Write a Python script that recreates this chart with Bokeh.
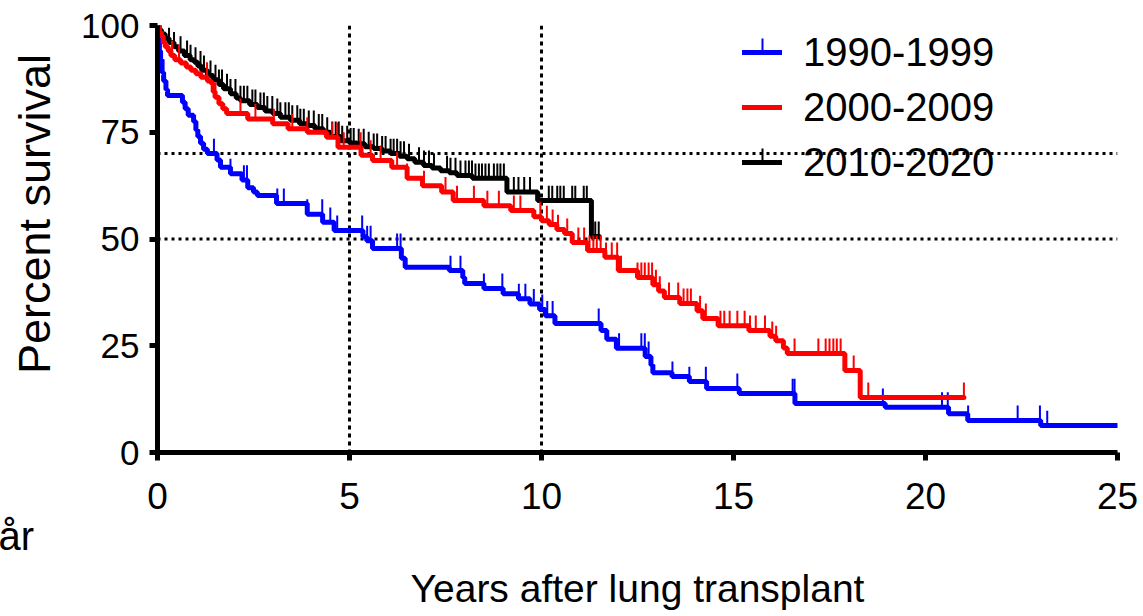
import numpy as np
from bokeh.plotting import figure
from bokeh.models import (Span, Legend, LegendItem, ColumnDataSource, Title,
                          FixedTicker, Range1d, BoxAnnotation)
from bokeh.embed import file_html
from bokeh.resources import INLINE

FONT = "Liberation Sans"

# ---------------- data ----------------
series_labels = ["1990-1999", "2000-2009", "2010-2020"]
series_colors = ["#0000ff", "#ff0000", "#000000"]

x_ticks = [0, 5, 10, 15, 20, 25]
y_ticks = [0, 25, 50, 75, 100]
ref_x = [5, 10]
ref_y = [50, 70]

blue_t = [0, 0.02, 0.05, 0.08, 0.12, 0.16, 0.22, 0.26, 0.65, 0.72, 0.80, 0.94, 1.00, 1.05,
          1.12, 1.20, 1.30, 1.55, 1.64, 1.90, 2.20, 2.35, 2.50, 2.60, 3.10, 3.90, 4.30, 4.60,
          5.35, 5.45, 5.60, 6.35, 6.45, 7.60, 7.95, 8.00, 8.50, 9.00, 9.40, 9.70, 9.95, 10.10,
          10.35, 11.55, 11.70, 11.95, 12.70, 12.85, 12.90, 13.40, 13.85, 14.30, 15.15, 16.60,
          18.95, 20.60, 21.10, 23.00]
blue_s = [100, 97, 94, 92, 89, 87, 85, 83.6, 82, 80.5, 79, 77.5, 75.5, 74,
          72.4, 71, 70, 68.5, 66.8, 65.3, 63.8, 62, 61, 60.2, 58.3, 55.8, 53.9, 52,
          50.5, 49.6, 47.8, 45.5, 43.4, 42.6, 41, 39.6, 38.4, 37.2, 36, 34.8, 33.5, 32,
          30.2, 28.6, 26.5, 24.4, 22.5, 20.5, 18.7, 17.8, 16.6, 15, 13.8, 11.5,
          10.6, 9.1, 7.5, 6.3]
blue_end = 25.0
blue_censor = [1.47, 1.90, 2.25, 2.33, 3.12, 3.29, 3.90, 4.29, 4.50, 4.68, 5.33, 5.46, 5.55,
               6.24, 6.33, 7.63, 7.89, 8.50, 8.98, 9.41, 9.58, 9.80, 10.02, 10.15, 10.29,
               11.49, 12.02, 12.60, 12.69, 12.79, 13.41, 13.85, 14.28, 15.10, 16.54, 16.59,
               18.89, 20.43, 20.58, 21.11, 22.40, 22.98, 23.17]

red_t = [0, 0.05, 0.10, 0.15, 0.20, 0.28, 0.35, 0.45, 0.60, 0.75, 0.87, 1.00, 1.13, 1.30,
         1.40, 1.45, 1.50, 1.60, 1.70, 1.80, 2.35, 3.00, 3.40, 3.90, 4.40, 4.70, 5.30, 5.60,
         6.10, 6.50, 6.90, 7.40, 7.70, 8.50, 9.20, 9.80, 10.00, 10.20, 10.40, 10.60, 10.80,
         11.20, 11.65, 12.00, 12.50, 12.90, 13.05, 13.20, 13.60, 14.05, 14.20, 14.60, 15.40,
         15.95, 16.10, 16.30, 16.40, 17.90, 18.30]
red_s = [100, 98.5, 97.5, 96, 95, 94, 93, 92, 91.2, 90.3, 89.5, 88.7, 87.9, 87,
         86.4, 84.5, 83.2, 81.7, 80.5, 79.4, 78.1, 77, 75.8, 75, 73.8, 71.5, 69.6, 68.4,
         66.8, 64.2, 62.5, 61, 59, 57.8, 56.7, 55.2, 54.3, 53.4, 52.2, 51.3, 49.2,
         47.3, 45.7, 42.6, 41, 39.3, 37.8, 36.3, 34.9, 33.2, 31.4, 29.7, 28.6,
         27.2, 26.2, 24.5, 23.2, 19.2, 12.9]
red_end = 21.0
red_censor = [0.38, 0.56, 1.29, 1.51, 2.16, 2.55, 3.03, 3.51, 3.90, 4.55, 4.68, 4.85, 5.29,
              5.55, 5.81, 6.24, 6.50, 6.94, 7.50, 7.80, 8.24, 8.59, 8.89, 9.28, 9.45, 9.97,
              10.14, 10.29, 10.43, 10.67, 10.96, 11.11, 11.25, 11.35, 11.44, 11.54, 11.68,
              11.83, 11.97, 12.07, 12.50, 12.60, 12.69, 12.79, 12.88, 12.98, 13.08, 13.32,
              13.56, 13.70, 13.80, 13.89, 14.13, 14.28, 14.66, 14.76, 14.90, 15.10, 15.29,
              15.43, 15.58, 15.82, 16.01, 16.11, 16.59, 17.21, 17.40, 17.50, 17.60, 17.69,
              17.79, 18.13, 18.51, 21.0]

black_t = [0, 0.05, 0.10, 0.20, 0.30, 0.43, 0.55, 0.70, 0.85, 0.96, 1.05, 1.15, 1.30, 1.45,
           1.60, 1.72, 1.90, 2.05, 2.16, 2.40, 2.60, 2.80, 3.00, 3.20, 3.46, 3.70, 3.90, 4.10,
           4.32, 4.50, 4.77, 5.00, 5.20, 5.40, 5.63, 5.85, 6.07, 6.30, 6.50, 6.70, 6.93, 7.15,
           7.37, 7.60, 7.80, 8.20, 9.10, 9.90, 11.30]
black_s = [100, 99, 98, 97, 96, 95, 94, 93, 92, 91.4, 90.5, 89.5, 88.3, 87.3,
           86.2, 85.2, 84, 83, 82.4, 81.5, 80.8, 80, 79.4, 78.5, 77.8, 77, 76.6, 75.8,
           75, 74, 73, 72.5, 72.3, 71.6, 71.2, 70.6, 70, 69.4, 68.8, 68, 67.2, 66.6,
           66, 65.5, 64.9, 64.2, 61, 59, 50.6]
black_end = 11.5
black_censor = [0.30, 0.43, 0.60, 0.77, 0.86, 0.99, 1.12, 1.21, 1.38, 1.51, 1.60, 1.68, 1.81,
                1.90, 2.03, 2.16, 2.25, 2.34, 2.47, 2.55, 2.68, 2.77, 2.86, 2.99, 3.12, 3.20,
                3.33, 3.42, 3.51, 3.64, 3.72, 3.81, 3.94, 4.07, 4.20, 4.29, 4.42, 4.55, 4.64,
                4.72, 4.81, 4.94, 5.03, 5.11, 5.24, 5.37, 5.50, 5.63, 5.72, 5.85, 5.94, 6.07,
                6.15, 6.24, 6.33, 6.42, 6.55, 6.81, 6.94, 7.07, 7.20, 7.54, 7.63, 7.76, 7.89,
                8.02, 8.11, 8.19, 8.28, 8.37, 8.45, 8.54, 8.63, 8.76, 8.85, 8.93, 9.02, 9.28,
                9.40, 9.55, 9.70, 10.19, 10.28, 10.41, 10.49, 10.58, 10.80, 10.88, 11.10,
                11.18, 11.40, 11.49]

# ---------------- figure ----------------
p = figure(width=1143, height=616, x_range=Range1d(0, 25), y_range=Range1d(0, 100),
           output_backend="svg", toolbar_location=None,
           min_border_left=157, min_border_right=26, min_border_top=25, min_border_bottom=164)
p.outline_line_color = None
p.grid.visible = False
p.background_fill_color = "white"
p.border_fill_color = "white"

for ax in (p.xaxis[0], p.yaxis[0]):
    ax.axis_line_width = 5
    ax.axis_line_color = "black"
    ax.major_tick_line_width = 5
    ax.major_tick_line_color = "black"
    ax.major_tick_out = 8
    ax.major_tick_in = 0
    ax.minor_tick_line_color = None
    ax.major_label_text_font = FONT
    ax.major_label_text_color = "black"
p.xaxis.ticker = FixedTicker(ticks=x_ticks)
p.xaxis.major_label_text_font_size = "37px"
p.xaxis.major_label_standoff = 22
p.yaxis.ticker = FixedTicker(ticks=y_ticks)
p.yaxis.major_label_text_font_size = "35px"
p.yaxis.major_label_standoff = 10

# y axis title (leading no-break spaces nudge it upward, as in the original)
p.yaxis.axis_label = "\u00a0\u00a0\u00a0\u00a0Percent survival"
p.yaxis.axis_label_text_font = FONT
p.yaxis.axis_label_text_font_size = "45px"
p.yaxis.axis_label_text_font_style = "normal"
p.yaxis.axis_label_text_color = "black"
p.yaxis.axis_label_standoff = 18

# texts below the x axis
p.add_layout(Title(text="år", align="left", offset=-159, standoff=0,
                   text_font=FONT, text_font_size="40px", text_font_style="normal",
                   text_color="black"), "below")
p.add_layout(Title(text="Years after lung transplant", align="center", standoff=14,
                   text_font=FONT, text_font_size="39px", text_font_style="normal",
                   text_color="black"), "below")

# reference dotted lines (behind curves)
for xv in ref_x:
    p.add_layout(Span(location=xv, dimension="height", line_color="black",
                      line_width=3, line_dash="4 4", level="underlay"))
for yv in ref_y:
    p.add_layout(Span(location=yv, dimension="width", line_color="black",
                      line_width=3, line_dash="3 4", level="underlay"))

TICK_H = 3.5
line_renderers = {}


def draw_series(key, ts, ss, end, censor, color):
    xs = list(ts) + [end]
    ys = list(ss) + [ss[-1]]
    r = p.step(xs, ys, mode="after", line_color=color, line_width=5, line_cap="round")
    ta = np.array(ts)
    sa = np.array(ss)
    ca = np.array(censor)
    idx = np.searchsorted(ta, ca, side="right") - 1
    cy = sa[idx]
    src = ColumnDataSource(dict(x=ca, y0=cy, y1=cy + TICK_H))
    p.segment(x0="x", y0="y0", x1="x", y1="y1", source=src, line_color=color, line_width=2)
    line_renderers[key] = r


draw_series(0, blue_t, blue_s, blue_end, blue_censor, series_colors[0])
draw_series(2, black_t, black_s, black_end, black_censor, series_colors[2])
draw_series(1, red_t, red_s, red_end, red_censor, series_colors[1])

LEG_X, LEG_Y, ROW_H, ROW_GAP = 585, 265, 50, 5
legend = Legend(items=[LegendItem(label=series_labels[i], renderers=[line_renderers[i]])
                       for i in range(3)],
                location=(LEG_X, LEG_Y), orientation="vertical",
                glyph_width=40, glyph_height=ROW_H, label_height=ROW_H, label_standoff=21,
                spacing=ROW_GAP, padding=0, margin=0, border_line_color=None,
                background_fill_alpha=0, label_text_font=FONT,
                label_text_font_size="40px", label_text_color="black")
p.add_layout(legend)

# small censor marks on the legend swatches (blue & black rows)
leg_top = LEG_Y + 3 * ROW_H + 2 * ROW_GAP
for row, color in [(0, series_colors[0]), (2, series_colors[2])]:
    centre = leg_top - row * (ROW_H + ROW_GAP) - ROW_H / 2
    p.add_layout(BoxAnnotation(left=LEG_X + 19, right=LEG_X + 21, bottom=centre, top=centre + 14,
                               left_units="screen", right_units="screen",
                               bottom_units="screen", top_units="screen",
                               fill_color=color, fill_alpha=1, line_color=None))

open("out.html", "w").write(file_html(p, INLINE))
